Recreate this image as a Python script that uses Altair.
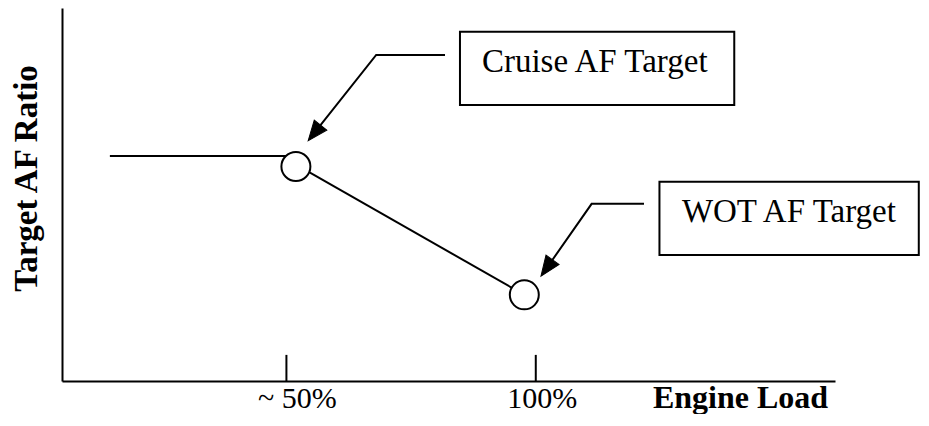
import altair as alt
import pandas as pd

# AF target curve (x: engine load %, y: relative AF ratio units)
curve_seg = ["flat", "flat", "ramp", "ramp"]
curve_x = [14.6, 51.9, 52.7, 97.7]
curve_y = [60.3, 60.3, 57.4, 23.1]

# target points
point_label = ["Cruise", "WOT"]
point_x = [51.9, 97.7]
point_y = [57.5, 23.1]

# tick positions
tick_values = [50, 100]
tick_labels = ["~ 50%", "100%"]

# annotation boxes
box_name = ["Cruise AF Target", "WOT AF Target"]
box_x1 = [84.8, 124.8]
box_x2 = [139.8, 176.8]
box_y1 = [74.0, 33.8]
box_y2 = [93.6, 53.4]
text_x = [89.2, 129.3]
text_y = [82.9, 42.7]

# leader arrows
arrow_id = ["c", "c", "c", "w", "w", "w"]
arrow_order = [0, 1, 2, 0, 1, 2]
arrow_x = [81.8, 68.0, 55.6, 121.7, 111.2, 102.2]
arrow_y = [87.4, 87.4, 66.5, 47.5, 47.5, 30.3]
head_x = [55.6, 102.2]
head_y = [66.5, 30.3]
head_angle = [218.3, 215.3]

FONT = "Liberation Serif"
xs = alt.Scale(domain=[5, 160], nice=False, zero=False)
ys = alt.Scale(domain=[0, 100], nice=False, zero=False)

curve_df = pd.DataFrame({"seg": curve_seg, "x": curve_x, "y": curve_y})
pt_df = pd.DataFrame({"label": point_label, "x": point_x, "y": point_y})
tick_df = pd.DataFrame({"x": tick_values, "y0": [0, 0], "y1": [7.0, 7.0]})
box_df = pd.DataFrame({"name": box_name, "x1": box_x1, "x2": box_x2,
                       "y1": box_y1, "y2": box_y2, "tx": text_x, "ty": text_y})
arrow_df = pd.DataFrame({"id": arrow_id, "o": arrow_order, "x": arrow_x, "y": arrow_y})
head_df = pd.DataFrame({"x": head_x, "y": head_y, "a": head_angle})

label_expr = "datum.value == 50 ? '%s' : '%s'" % (tick_labels[0], tick_labels[1])

base_axes = alt.Chart(curve_df).mark_line(color="black", strokeWidth=2).encode(
    x=alt.X("x:Q", scale=xs, axis=alt.Axis(
        values=tick_values, labelExpr=label_expr, ticks=False, tickSize=0,
        grid=False, domainColor="black", domainWidth=2,
        labelFont=FONT, labelFontSize=30, labelColor="black",
        labelAlign="left", labelOffset=-29, labelBaseline="alphabetic",
        labelPadding=26, title="Engine Load", titleFont=FONT, titleFontSize=32,
        titleFontWeight="bold", titleColor="black", titleX=678, titleY=26,
        titleAlign="center", titleBaseline="alphabetic")),
    y=alt.Y("y:Q", scale=ys, axis=alt.Axis(
        labels=False, ticks=False, grid=False, domainColor="black", domainWidth=2,
        title="Target AF Ratio", titleFont=FONT, titleFontSize=33,
        titleFontWeight="bold", titleColor="black", titleX=-26, titleY=170,
        titleAngle=270, titleAlign="center", titleBaseline="alphabetic")),
    detail="seg:N",
)

ticks = alt.Chart(tick_df).mark_rule(color="black", strokeWidth=2).encode(
    x=alt.X("x:Q", scale=xs), y=alt.Y("y0:Q", scale=ys), y2="y1:Q")

points = alt.Chart(pt_df).mark_point(
    shape="circle", size=841, filled=True, fill="white", stroke="black",
    strokeWidth=2, opacity=1).encode(
    x=alt.X("x:Q", scale=xs), y=alt.Y("y:Q", scale=ys))

boxes = alt.Chart(box_df).mark_rect(fill="white", stroke="black", strokeWidth=2).encode(
    x=alt.X("x1:Q", scale=xs), x2="x2:Q", y=alt.Y("y1:Q", scale=ys), y2="y2:Q")

texts = alt.Chart(box_df).mark_text(
    font=FONT, fontSize=33, align="left", baseline="alphabetic", color="black").encode(
    x=alt.X("tx:Q", scale=xs), y=alt.Y("ty:Q", scale=ys), text="name:N")

arrows = alt.Chart(arrow_df).mark_line(color="black", strokeWidth=2).encode(
    x=alt.X("x:Q", scale=xs), y=alt.Y("y:Q", scale=ys), detail="id:N", order="o:Q")

heads = alt.Chart(head_df).mark_point(
    shape="M0,-1 L0.8,1 L-0.8,1 Z", size=400, filled=True, fill="black",
    stroke="black", strokeWidth=1, opacity=1).encode(
    x=alt.X("x:Q", scale=xs), y=alt.Y("y:Q", scale=ys), angle=alt.Angle("a:Q", scale=None))

chart = alt.layer(base_axes, ticks, points, boxes, texts, arrows, heads).properties(
    width=773, height=373,
    autosize=alt.AutoSizeParams(type="none"),
    padding={"left": 54, "top": 0, "right": 86, "bottom": 33},
    background="white",
).configure_view(stroke=None)

chart.save("out.html", embed_options={"renderer": "svg", "actions": False})
